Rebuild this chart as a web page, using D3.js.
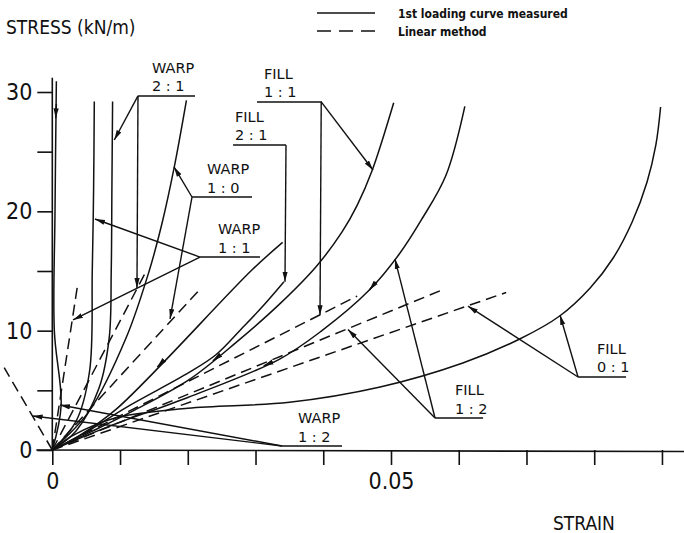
<!DOCTYPE html>
<html>
<head>
<meta charset="utf-8">
<script src="https://cdn.jsdelivr.net/npm/d3@7"></script>
<style>
body { margin: 0; background: #fff; }
svg text { fill: #111; }
</style>
</head>
<body>
<div id="chart"></div>
<script>
// axis ticks
const strainTicks = [0, 0.01, 0.02, 0.03, 0.04, 0.05, 0.06, 0.07, 0.08, 0.09];
const strainTickLabels = ["0", "", "", "", "", "0.05", "", "", "", ""];
const stressTicks = [0, 5, 10, 15, 20, 25, 30];
const stressTickLabels = ["0", "", "10", "", "20", "", "30"];

// 1st loading curves measured, [strain, stress kN/m]
const warp12 = [[0, 0], [0.0013, 3.7], [0.0003, 10], [0.0004, 20], [0.0006, 30.9]];
const warp11 = [[0, 0], [0.0035, 2.4], [0.0055, 6.6], [0.0059, 15], [0.0061, 22], [0.0062, 29.2]];
const warp21 = [[0, 0], [0.0035, 1.6], [0.0069, 5.2], [0.0084, 9.4], [0.0087, 15], [0.0088, 22], [0.0089, 29.2]];
const warp10 = [[0, 0], [0.0055, 3.3], [0.0109, 9.4], [0.0143, 15], [0.0162, 19], [0.018, 23.7], [0.0198, 29.3]];
const fill21a = [[0, 0], [0.004, 1.2], [0.0094, 3.4], [0.0295, 15.1], [0.034, 17.4]];
const fill21 = [[0, 0], [0.005, 1.5], [0.011, 3.6], [0.0202, 6.5], [0.0242, 8], [0.028, 10.2], [0.031, 12], [0.0342, 14.1]];
const fill11 = [[0, 0], [0.006, 1.6], [0.012, 3.3], [0.0202, 5.9], [0.0271, 9], [0.0335, 12.2], [0.039, 15.4], [0.0428, 18.3], [0.045, 20.5], [0.0472, 23.4], [0.0504, 29.1]];
const fill12 = [[0, 0], [0.008, 1.9], [0.02, 4.4], [0.0335, 7.6], [0.0398, 10], [0.0468, 13.4], [0.0512, 16.4], [0.0545, 19.3], [0.0581, 23], [0.0609, 28.8]];
const fill01 = [[0, 0], [0.003, 1.2], [0.0094, 2.7], [0.02, 3.5], [0.035, 4.0], [0.0484, 5.28], [0.0606, 7.29], [0.069, 9.3], [0.0749, 11.23], [0.0794, 13.58], [0.0828, 16.09], [0.0856, 19.11], [0.0878, 22.46], [0.0891, 25.56], [0.0898, 28.74]];

// linear method
const linWarp12 = [[0, 0], [-0.0071, 6.9]];
const linWarp11 = [[0, 0], [0.0037, 13.7]];
const linWarp21 = [[0, 0], [0.0136, 14.7]];
const linWarp10 = [[0, 0], [0.022, 13.6]];
const linFill11 = [[0, 0], [0.045, 12.9]];
const linFill12 = [[0, 0], [0.0575, 13.4]];
const linFill01 = [[0, 0], [0.067, 13.2]];

const measured = [warp12, warp11, warp21, warp10, fill21a, fill21, fill11, fill12, fill01];
const linear = [linWarp12, linWarp11, linWarp21, linWarp10, linFill11, linFill12, linFill01];

// small direction arrows sitting on the curves, [from, to]
const curveArrows = [
    [[0.0006, 29], [0.0005, 27.8]],
    [[0.0165, 7.53], [0.0155, 6.95]],
    [[0.0247, 7.92], [0.0237, 7.47]],
    [[0.0322, 7.29], [0.0312, 7.05]],
    [[0.0478, 14.08], [0.0468, 13.4]]
];

// label texts
const labelNames = ["WARP", "WARP", "WARP", "FILL", "FILL", "FILL", "FILL", "WARP"];
const labelRatios = ["2 : 1", "1 : 0", "1 : 1", "2 : 1", "1 : 1", "1 : 2", "0 : 1", "1 : 2"];

// label layout in chart units: underline x0, x1, y, text x, leader start, leader targets
const labelLayout = [
    { x0: 0.01265, x1: 0.02107, y: 29.67, tx: 0.01472, from: [0.01265, 29.67], to: [[0.00915, 25.98], [0.0125, 13.58]] },
    { x0: 0.02062, x1: 0.02948, y: 21.2, tx: 0.02284, from: [0.02062, 21.2], to: [[0.01797, 23.72], [0.01738, 10.98]] },
    { x0: 0.0218, x1: 0.03066, y: 16.17, tx: 0.02446, from: [0.0218, 16.17], to: [[0.0063, 19.36], [0.00306, 10.9]] },
    { x0: 0.02668, x1: 0.0345, y: 25.56, tx: 0.02697, from: [0.0345, 25.56], to: [[0.03435, 14.1]] },
    { x0: 0.03022, x1: 0.03982, y: 29.17, tx: 0.03125, from: [0.0397, 29.17], to: [[0.03952, 11.3], [0.04734, 23.46]] },
    { x0: 0.0565, x1: 0.06359, y: 2.68, tx: 0.05945, from: [0.0565, 2.68], to: [[0.04365, 10.1], [0.05059, 16.0]] },
    { x0: 0.07761, x1: 0.0847, y: 6.12, tx: 0.08041, from: [0.07761, 6.12], to: [[0.06137, 12.05], [0.07495, 11.31]] },
    { x0: 0.03391, x1: 0.04277, y: 0.335, tx: 0.03627, from: [0.03391, 0.335], to: [[0.00114, 3.77], [-0.0029, 2.85]] }
];

const width = 684;
const height = 533;

const svg = d3.select('#chart').append('svg')
    .attr('width', width)
    .attr('height', height);

const defs = svg.append('defs');
defs.append('marker')
    .attr('id', 'arrow')
    .attr('markerUnits', 'userSpaceOnUse')
    .attr('viewBox', '0 0 10 6')
    .attr('refX', 10).attr('refY', 3)
    .attr('markerWidth', 10).attr('markerHeight', 6)
    .attr('orient', 'auto')
    .append('path')
    .attr('d', 'M0,0.4L10,3L0,5.6Z')
    .attr('fill', '#111');

const x = d3.scaleLinear().domain([0, 0.09]).range([52.3, 52.3 + 0.09 * 6774]);
const y = d3.scaleLinear().domain([0, 30]).range([450, 92]);

const condensed = '"DejaVu Sans Condensed", "DejaVu Sans", sans-serif';

// axes
const xAxis = svg.append('g')
    .attr('transform', `translate(0,${y(0)})`)
    .call(d3.axisBottom(x).tickValues(strainTicks).tickSize(15).tickPadding(8)
        .tickFormat((d, i) => strainTickLabels[i]));
const yAxis = svg.append('g')
    .attr('transform', `translate(${x(0)},0)`)
    .call(d3.axisLeft(y).tickValues(stressTicks).tickSize(15).tickPadding(5)
        .tickFormat((d, i) => stressTickLabels[i]));

[xAxis, yAxis].forEach(g => {
    g.select('.domain').remove();
    g.selectAll('line').attr('stroke', '#111').attr('stroke-width', 1.6);
    g.selectAll('text').style('font-family', condensed).style('font-size', '23px').attr('fill', '#111');
});

svg.append('line')
    .attr('x1', x(0) - 16).attr('x2', width)
    .attr('y1', y(0)).attr('y2', y(0) + 1.5)
    .attr('stroke', '#111').attr('stroke-width', 1.6);
svg.append('line')
    .attr('x1', x(0)).attr('x2', x(0))
    .attr('y1', y(0)).attr('y2', y(31.2))
    .attr('stroke', '#111').attr('stroke-width', 1.6);

const line = d3.line()
    .x(d => x(d[0]))
    .y(d => y(d[1]))
    .curve(d3.curveCatmullRom.alpha(0.5));
const straight = d3.line().x(d => x(d[0])).y(d => y(d[1]));

svg.append('g').selectAll('path')
    .data(measured)
    .join('path')
    .attr('d', line)
    .attr('fill', 'none')
    .attr('stroke', '#111')
    .attr('stroke-width', 1.5);

svg.append('g').selectAll('path')
    .data(linear)
    .join('path')
    .attr('d', straight)
    .attr('fill', 'none')
    .attr('stroke', '#111')
    .attr('stroke-width', 1.5)
    .attr('stroke-dasharray', '11,6');

svg.append('g').selectAll('path')
    .data(curveArrows)
    .join('path')
    .attr('d', straight)
    .attr('stroke', '#111').attr('stroke-width', 1.5)
    .attr('marker-end', 'url(#arrow)');

// labels with leaders
const labels = svg.append('g').selectAll('g')
    .data(labelLayout)
    .join('g');

labels.append('line')
    .attr('x1', d => x(d.x0)).attr('x2', d => x(d.x1))
    .attr('y1', d => y(d.y)).attr('y2', d => y(d.y))
    .attr('stroke', '#111').attr('stroke-width', 1.5);

labels.each(function (d) {
    const g = d3.select(this);
    d.to.forEach(t => {
        g.append('line')
            .attr('x1', x(d.from[0])).attr('y1', y(d.from[1]))
            .attr('x2', x(t[0])).attr('y2', y(t[1]))
            .attr('stroke', '#111').attr('stroke-width', 1.4)
            .attr('marker-end', 'url(#arrow)');
    });
});

labels.append('text')
    .attr('x', d => x(d.tx))
    .attr('y', d => y(d.y) - 23)
    .style('font-family', '"DejaVu Sans", sans-serif')
    .style('font-size', '14.5px')
    .text((d, i) => labelNames[i]);

labels.append('text')
    .attr('x', d => x(d.tx))
    .attr('y', d => y(d.y) - 4.5)
    .style('font-family', '"DejaVu Sans", sans-serif')
    .style('font-size', '14.5px')
    .text((d, i) => labelRatios[i]);

// titles
svg.append('text')
    .attr('x', 6).attr('y', 34)
    .style('font-family', condensed)
    .style('font-size', '19px')
    .text('STRESS (kN/m)');

svg.append('text')
    .attr('x', 553).attr('y', 530)
    .style('font-family', condensed)
    .style('font-size', '19px')
    .text('STRAIN');

// legend
const legend = svg.append('g');
legend.append('line')
    .attr('x1', 317).attr('x2', 375).attr('y1', 13).attr('y2', 13)
    .attr('stroke', '#111').attr('stroke-width', 1.5);
legend.append('line')
    .attr('x1', 317).attr('x2', 375).attr('y1', 31).attr('y2', 31)
    .attr('stroke', '#111').attr('stroke-width', 1.5)
    .attr('stroke-dasharray', '14,8');
legend.append('text')
    .attr('x', 398).attr('y', 18)
    .style('font-family', condensed).style('font-size', '12px').style('font-weight', 'bold')
    .text('1st loading curve measured');
legend.append('text')
    .attr('x', 398).attr('y', 36)
    .style('font-family', condensed).style('font-size', '12px').style('font-weight', 'bold')
    .text('Linear method');
</script>
</body>
</html>
